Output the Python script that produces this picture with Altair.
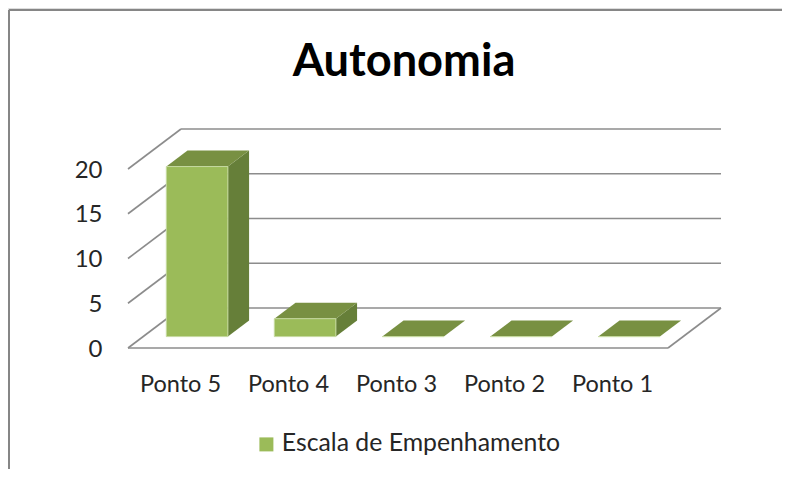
import altair as alt
import pandas as pd

title_text = "Autonomia"
series_name = "Escala de Empenhamento"
categories = ["Ponto 5", "Ponto 4", "Ponto 3", "Ponto 2", "Ponto 1"]
values = [19, 2, 0, 0, 0]
ticks = [0, 5, 10, 15, 20]

W, H = 774, 461
FONT = "Lato"
PX_CAT, PX_VAL = 108.0, 8.95
X0, Y0 = 120.0, 340.0
DX, DY = 53 / PX_CAT, 40 / PX_VAL   # depth expressed in axis units


def px(c, d):
    return c + DX * d


def py(v, d):
    return v + DY * d


n = len(categories)
xs = alt.Scale(domain=[-X0 / PX_CAT, (W - X0) / PX_CAT], nice=False, zero=False)
ys = alt.Scale(domain=[(Y0 - H) / PX_VAL, Y0 / PX_VAL], nice=False, zero=False)
x_axis = alt.Axis(
    values=[i + 0.5 for i in range(n)],
    labelExpr="[" + ",".join(f"'{c}'" for c in categories) + "][datum.value - 0.5]",
    orient="bottom", offset=-(H - 364), domain=False, ticks=False, grid=False,
    labelPadding=0, labelFont=FONT, labelFontSize=23.5, labelColor="#262626",
    labelBaseline="top", labelFlush=False, labelOverlap=False, labelOffset=-2,
)
y_axis = alt.Axis(
    values=ticks, orient="left", offset=-94, domain=False, ticks=False, grid=False,
    labelPadding=0, labelFont=FONT, labelFontSize=24, labelColor="#262626",
    labelOverlap=False, labelOffset=1,
)
X = lambda f="x:Q", **k: alt.X(f, scale=xs, title=None, axis=x_axis, **k)
Y = lambda f="y:Q", **k: alt.Y(f, scale=ys, title=None, axis=y_axis, **k)

BAR_W, D0, D1 = 0.57, 0.285, 0.685

grid = []
for t in ticks:
    grid += [
        dict(g=f"s{t}", x=px(0, 0), y=py(t, 0)),
        dict(g=f"s{t}", x=px(0, 1), y=py(t, 1)),
        dict(g=f"b{t}", x=px(0, 1), y=py(t, 1)),
        dict(g=f"b{t}", x=px(n, 1), y=py(t, 1)),
    ]
grid += [
    dict(g="f", x=px(0, 0), y=py(0, 0)),
    dict(g="f", x=px(n, 0), y=py(0, 0)),
    dict(g="r", x=px(n, 0), y=py(0, 0)),
    dict(g="r", x=px(n, 1), y=py(0, 1)),
]
grid_layer = alt.Chart(pd.DataFrame(grid)).mark_line(
    color="#8c8c8c", strokeWidth=1.6
).encode(X(), Y(), detail="g:N", order="ord:Q").transform_window(
    ord="row_number()", groupby=["g"]
)

front, side, top = [], [], []
for i, (cat, v) in enumerate(zip(categories, values)):
    l = i + 0.5 - BAR_W / 2
    r = i + 0.5 + BAR_W / 2
    front.append(dict(serie=series_name, cat=cat, x=px(l, D0), x2=px(r, D0),
                      y=py(0, D0), y2=py(v, D0)))
    side += [
        dict(cat=cat, x=px(r, D0), y=py(0, D0), y2=py(v, D0)),
        dict(cat=cat, x=px(r, D1), y=py(0, D1), y2=py(v, D1)),
    ]
    top += [
        dict(cat=cat, y=py(v, D0), x=px(l, D0), x2=px(r, D0)),
        dict(cat=cat, y=py(v, D1), x=px(l, D1), x2=px(r, D1)),
    ]

side_layer = alt.Chart(pd.DataFrame(side)).mark_area(
    orient="vertical", color="#667f39"
).encode(X(), Y(stack=None), y2="y2:Q", detail="cat:N")

top_layer = alt.Chart(pd.DataFrame(top)).mark_area(
    orient="horizontal", color="#789042"
).encode(X(stack=None), x2="x2:Q", y=Y(), detail="cat:N")

front_layer = alt.Chart(pd.DataFrame(front)).mark_rect(
    stroke="#c5d99f", strokeWidth=1
).encode(
    X(), x2="x2:Q", y=Y(), y2="y2:Q",
    color=alt.Color(
        "serie:N",
        scale=alt.Scale(domain=[series_name], range=["#9bbb59"]),
        legend=alt.Legend(
            orient="none", legendX=246, legendY=424, title=None, symbolType="square",
            symbolSize=196, symbolStrokeWidth=0, labelFont=FONT, labelFontSize=24.8,
            labelColor="#262626", labelOffset=3, labelLimit=400,
        ),
    ),
)

frame_left = alt.Chart(pd.DataFrame({"a": [0]})).mark_rule(color="#868686", strokeWidth=2).encode(
    x=alt.value(1), y=alt.value(2), y2=alt.value(H)
)
frame_top = alt.Chart(pd.DataFrame({"a": [0]})).mark_rule(color="#868686", strokeWidth=2).encode(
    y=alt.value(2), x=alt.value(1), x2=alt.value(W)
)

chart = alt.layer(
    frame_left, frame_top, grid_layer, side_layer, top_layer, front_layer
).properties(
    width=W, height=H, padding=0,
    autosize=alt.AutoSizeParams(type="none"),
    title=alt.TitleParams(
        title_text, anchor="middle", font=FONT, fontSize=45.2, fontWeight="bold",
        color="#000000", baseline="alphabetic", offset=0, dy=113, dx=9,
    ),
).configure_view(stroke=None).configure(background="white")

chart.save("out.html", embed_options={"renderer": "svg", "actions": False})
